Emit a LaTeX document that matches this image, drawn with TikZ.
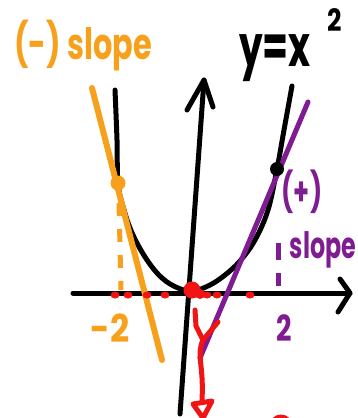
\documentclass[tikz,border=0pt]{standalone}
\usepackage{fontspec}
\setmainfont{Poppins}
\definecolor{org}{HTML}{F7A01C}
\definecolor{pur}{HTML}{7F1C92}
\definecolor{rd}{HTML}{F01414}
\begin{document}
\begin{tikzpicture}[x=1pt,y=-1pt,line cap=round,line join=round,
  blk/.style={line width=5pt,black},
  orgline/.style={line width=6pt,org},
  purline/.style={line width=5pt,pur},
  redline/.style={line width=5pt,rd},
  lbl/.style={inner sep=0pt,font=\bfseries}]
\useasboundingbox (0,0) rectangle (358,418);
\clip (0,0) rectangle (358,418);
% coordinates
\coordinate (xl) at (73,293); \coordinate (xr) at (350,293);
\coordinate (yb) at (180,414); \coordinate (yt) at (204,80);
\coordinate (ot) at (92,88); \coordinate (ob) at (162,360);
\coordinate (pt) at (308,102); \coordinate (pb) at (200,358);
\coordinate (ld) at (118,183); \coordinate (rd) at (277,169);
% axes
\draw[blk] (xl) -- (xr);
\draw[blk] (340,279) -- (xr) -- (338,312);
\draw[blk] (yb) -- (yt);
\draw[blk] (187,110) -- (yt) -- (213,107);
% parabola
\draw[blk] plot[smooth,tension=0.6] coordinates {(115,90) (117,140) (ld) (124,210) (133,235) (147,260) (162,278) (178,288) (193,291) (210,285) (225,275) (240,261) (255,240) (268,210) (rd) (284,130) (292,86)};
% tangents
\draw[orgline] (ot) -- (ob);
\draw[purline] (pt) -- (pb);
% dashed drops
\draw[org,line width=5pt,line cap=butt,dash pattern=on 13pt off 13pt] (119,203) -- (121,290);
\draw[pur,line width=5pt,line cap=butt,dash pattern=on 17pt off 13pt] (278,243) -- (278,286);
% points
\fill[org] (ld) circle (7.5pt);
\fill[black] (rd) circle (7pt);
% red marks
\foreach \x in {115,128,147,165,207,217,250}{\fill[rd] (\x,295) ellipse[x radius=4.5pt,y radius=3.5pt];}
\fill[rd] (192,290) circle (8.5pt);
\fill[rd] (200,294) circle (5pt);
\coordinate (r1) at (195,310); \coordinate (r2) at (218,322); \coordinate (rj) at (203,340);
\draw[redline] (r1) -- (196,326) -- (rj);
\draw[redline] (r2) -- (rj);
\draw[redline] (rj) .. controls (196,355) and (204,365) .. (202,400);
\draw[redline] (193,404) -- (212,401) -- (203,418) -- cycle;
\draw[redline] (272,426) arc[start angle=180,end angle=0,radius=9pt];
% labels
\node[lbl,text=org] (neg) at (83,46) {\scalebox{0.95}[1.35]{\fontsize{32}{32}\selectfont (-) slope}};
\node[lbl] (eq) at (275,58) {\scalebox{0.85}[1.3]{\fontsize{44}{44}\selectfont y=x}};
\node[lbl] (sq) at (335,20) {\scalebox{0.9}[1.1]{\fontsize{28}{28}\selectfont 2}};
\node[lbl,text=pur] (pos) at (302,192) {\scalebox{0.85}[1.3]{\fontsize{30}{30}\selectfont (+)}};
\node[lbl,text=pur] (sl) at (323,250) {\scalebox{0.85}[1.3]{\fontsize{28}{28}\selectfont slope}};
\node[lbl,text=org] (m2) at (110,328) {\scalebox{1.05}[1.2]{\fontsize{32}{32}\selectfont -2}};
\node[lbl,text=pur] (p2) at (284,328) {\scalebox{0.9}[1.2]{\fontsize{30}{30}\selectfont 2}};
\end{tikzpicture}
\end{document}
